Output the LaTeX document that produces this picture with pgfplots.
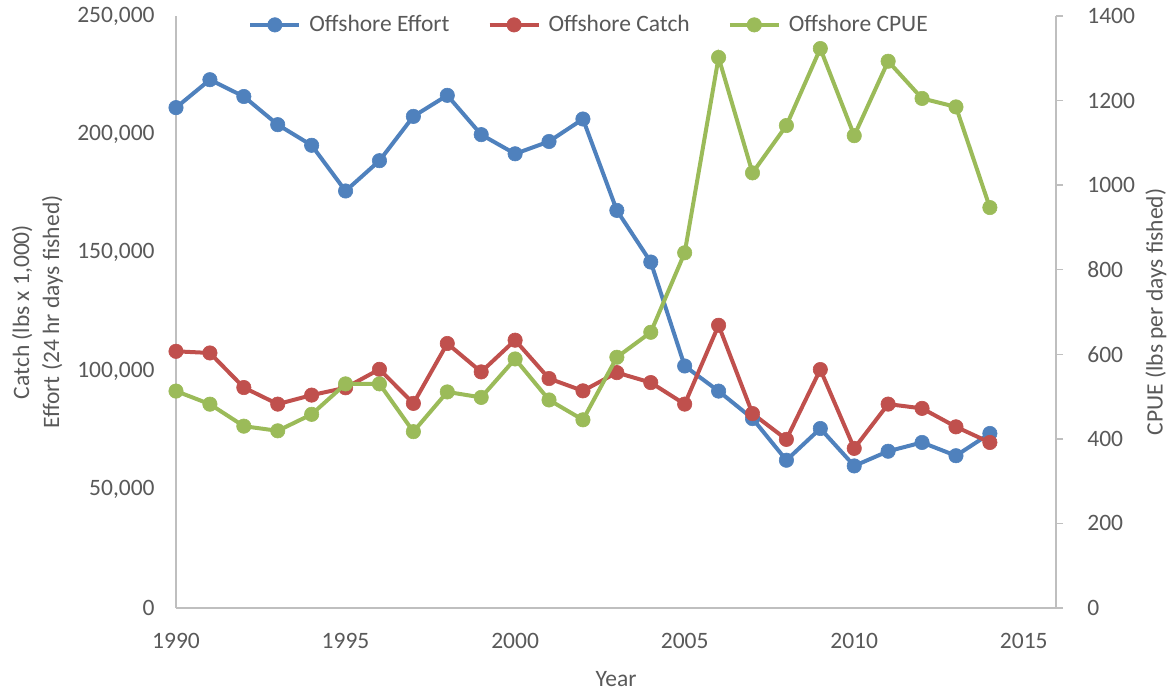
\documentclass[border=0pt]{standalone}
\usepackage{pgfplots}
\pgfplotsset{compat=1.18}
\usepackage{fontspec}
\setmainfont{Carlito}

\definecolor{effortc}{RGB}{79,129,189}
\definecolor{catchc}{RGB}{192,80,77}
\definecolor{cpuec}{RGB}{155,187,89}
\definecolor{axisgray}{RGB}{191,191,191}
\definecolor{textgray}{RGB}{89,89,89}

% offshore fishery
\pgfplotstableread{
year effort catch cpue
1990 211300 108400 513
1991 223100 107700 482
1992 216000 93100 430
1993 204100 86100 419
1994 195400 89900 458
1995 176100 93000 530
1996 188900 100800 530
1997 207600 86400 417
1998 216500 111700 511
1999 199900 99700 498
2000 191800 113100 589
2001 197000 96900 492
2002 206500 91700 445
2003 167900 99400 593
2004 146100 95200 652
2005 102200 86100 840
2006 91600 119400 1302
2007 80000 82100 1029
2008 62400 71200 1141
2009 75800 100700 1323
2010 60000 67400 1117
2011 66200 86100 1293
2012 69900 84300 1205
2013 64300 76500 1185
2014 73700 69900 947
}\fishdata

\pgfplotsset{
  base/.style={
    scale only axis, width=440pt, height=296pt,
    xmin=1990, xmax=2015.95, ymin=0,
    axis line style={draw=axisgray, line width=0.75pt},
    tick label style={text=textgray},
    /pgf/number format/assume math mode=true,
  },
  series/.style={color=#1, line width=2pt, mark=*, mark size=3.6pt,
    mark options={solid, fill=#1, line width=0.3pt}},
}

\begin{document}
\fontsize{11.75}{15}\selectfont
\begin{tikzpicture}
\begin{axis}[name=ax, base,
  axis x line*=bottom, axis y line*=left,
  ymax=250000, ytick={0,50000,...,250000}, scaled y ticks=false,
  xtick={1990,1995,...,2015},
  xticklabel style={/pgf/number format/fixed, /pgf/number format/1000 sep={},
    anchor=base, inner sep=0pt, yshift=-20pt},
  yticklabel style={/pgf/number format/fixed, /pgf/number format/1000 sep={,},
    anchor=east, inner sep=0pt, xshift=-10.5pt},
  major tick length=0pt,
  xlabel={Year},
  every axis x label/.style={at={(axis description cs:0.5,-0.1334)}, anchor=base, inner sep=0pt, text=textgray},
  ylabel={Catch (lbs x 1,000)\\Effort (24 hr days fished)},
  every axis y label/.style={at={(axis description cs:-0.1281,0.5)}, rotate=90, anchor=south, align=center, inner sep=0pt, text=textgray},
]
\addplot[series=effortc] table[x=year, y=effort] {\fishdata};
\addplot[series=catchc] table[x=year, y=catch] {\fishdata};
\end{axis}

\begin{axis}[base,
  axis x line=none, axis y line*=right,
  ymax=1400, ytick={0,200,...,1400},
  tick align=outside, major tick length=3.5pt,
  ytick style={draw=axisgray, line width=0.75pt},
  yticklabel style={/pgf/number format/fixed, /pgf/number format/1000 sep={},
    anchor=west, inner sep=0pt, xshift=12pt},
  ylabel={CPUE (lbs per days fished)},
  every axis y label/.style={at={(axis description cs:1.1011,0.5)}, rotate=90, anchor=north, inner sep=0pt, text=textgray},
  legend columns=3,
  legend style={at={(0.0818,0.985)}, anchor=west, draw=none, fill=none,
    inner sep=0pt, nodes={inner sep=0pt, text=textgray},
    /tikz/every even column/.append style={column sep=19pt},
    /tikz/every odd column/.append style={column sep=4pt}},
  legend image code/.code={\draw[mark repeat=2, mark phase=2] plot coordinates {(0pt,0pt) (12.25pt,0pt) (24.5pt,0pt)};},
]
\addlegendimage{series=effortc}
\addlegendentry{Offshore Effort}
\addlegendimage{series=catchc}
\addlegendentry{Offshore Catch}
\addplot[series=cpuec] table[x=year, y=cpue] {\fishdata};
\addlegendentry{Offshore CPUE}
\end{axis}

\pgfresetboundingbox
\path[use as bounding box] ([shift={(-88pt,-41pt)}]ax.south west) rectangle ([shift={(57.5pt,8pt)}]ax.north east);
\end{tikzpicture}
\end{document}
